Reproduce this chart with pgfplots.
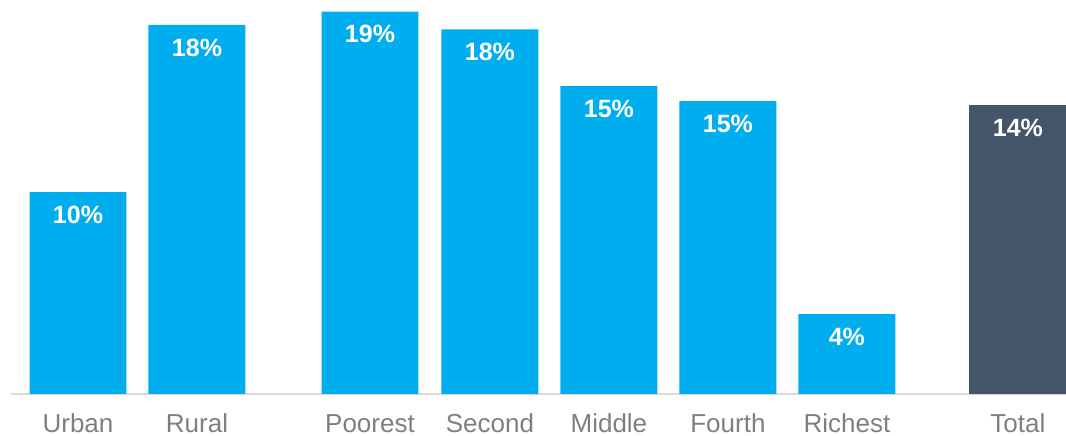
\documentclass[border=0pt]{standalone}
\usepackage{pgfplots}
\pgfplotsset{compat=1.18}
\usepackage{fontspec}
\setmainfont{Liberation Sans}
\definecolor{barblue}{RGB}{0,174,239}
\definecolor{bardark}{RGB}{68,84,106}
\definecolor{ticklab}{RGB}{127,127,127}
\definecolor{axisgray}{RGB}{217,217,217}
\begin{document}
\begin{tikzpicture}
\useasboundingbox (0,0) rectangle (1066pt,436pt);
\begin{axis}[
  at={(11pt,42pt)}, anchor=south west,
  scale only axis, width=1055pt, height=394pt,
  xmin=-0.563, xmax=8.303, ymin=0, ymax=19.41,
  axis x line=bottom, axis y line=none,
  x axis line style={-, draw=axisgray, line width=1.6pt},
  xtick={0,1,2.454,3.462,4.462,5.462,6.462,7.899},
  xticklabels={Urban,Rural,Poorest,Second,Middle,Fourth,Richest,Total},
  major tick length=0pt,
  xticklabel style={font=\fontsize{26}{30}\selectfont, text=ticklab, anchor=base, inner sep=0pt, yshift=-38.5pt},
  ytick=\empty,
  ybar, bar width=0.815, bar shift=0pt,
  clip=false,
  point meta=explicit symbolic,
  nodes near coords,
  every node near coord/.style={anchor=center, yshift=-22.5pt, text=white, font=\fontsize{25}{30}\selectfont\bfseries},
]
\addplot[fill=barblue, draw=none] coordinates {
  (0,9.95) [10\%]
  (1,18.18) [18\%]
  (2.454,18.84) [19\%]
  (3.462,17.96) [18\%]
  (4.462,15.17) [15\%]
  (5.462,14.43) [15\%]
  (6.462,3.94) [4\%]
};
\addplot[fill=bardark, draw=none] coordinates {
  (7.899,14.24) [14\%]
};
\end{axis}
\end{tikzpicture}
\end{document}
